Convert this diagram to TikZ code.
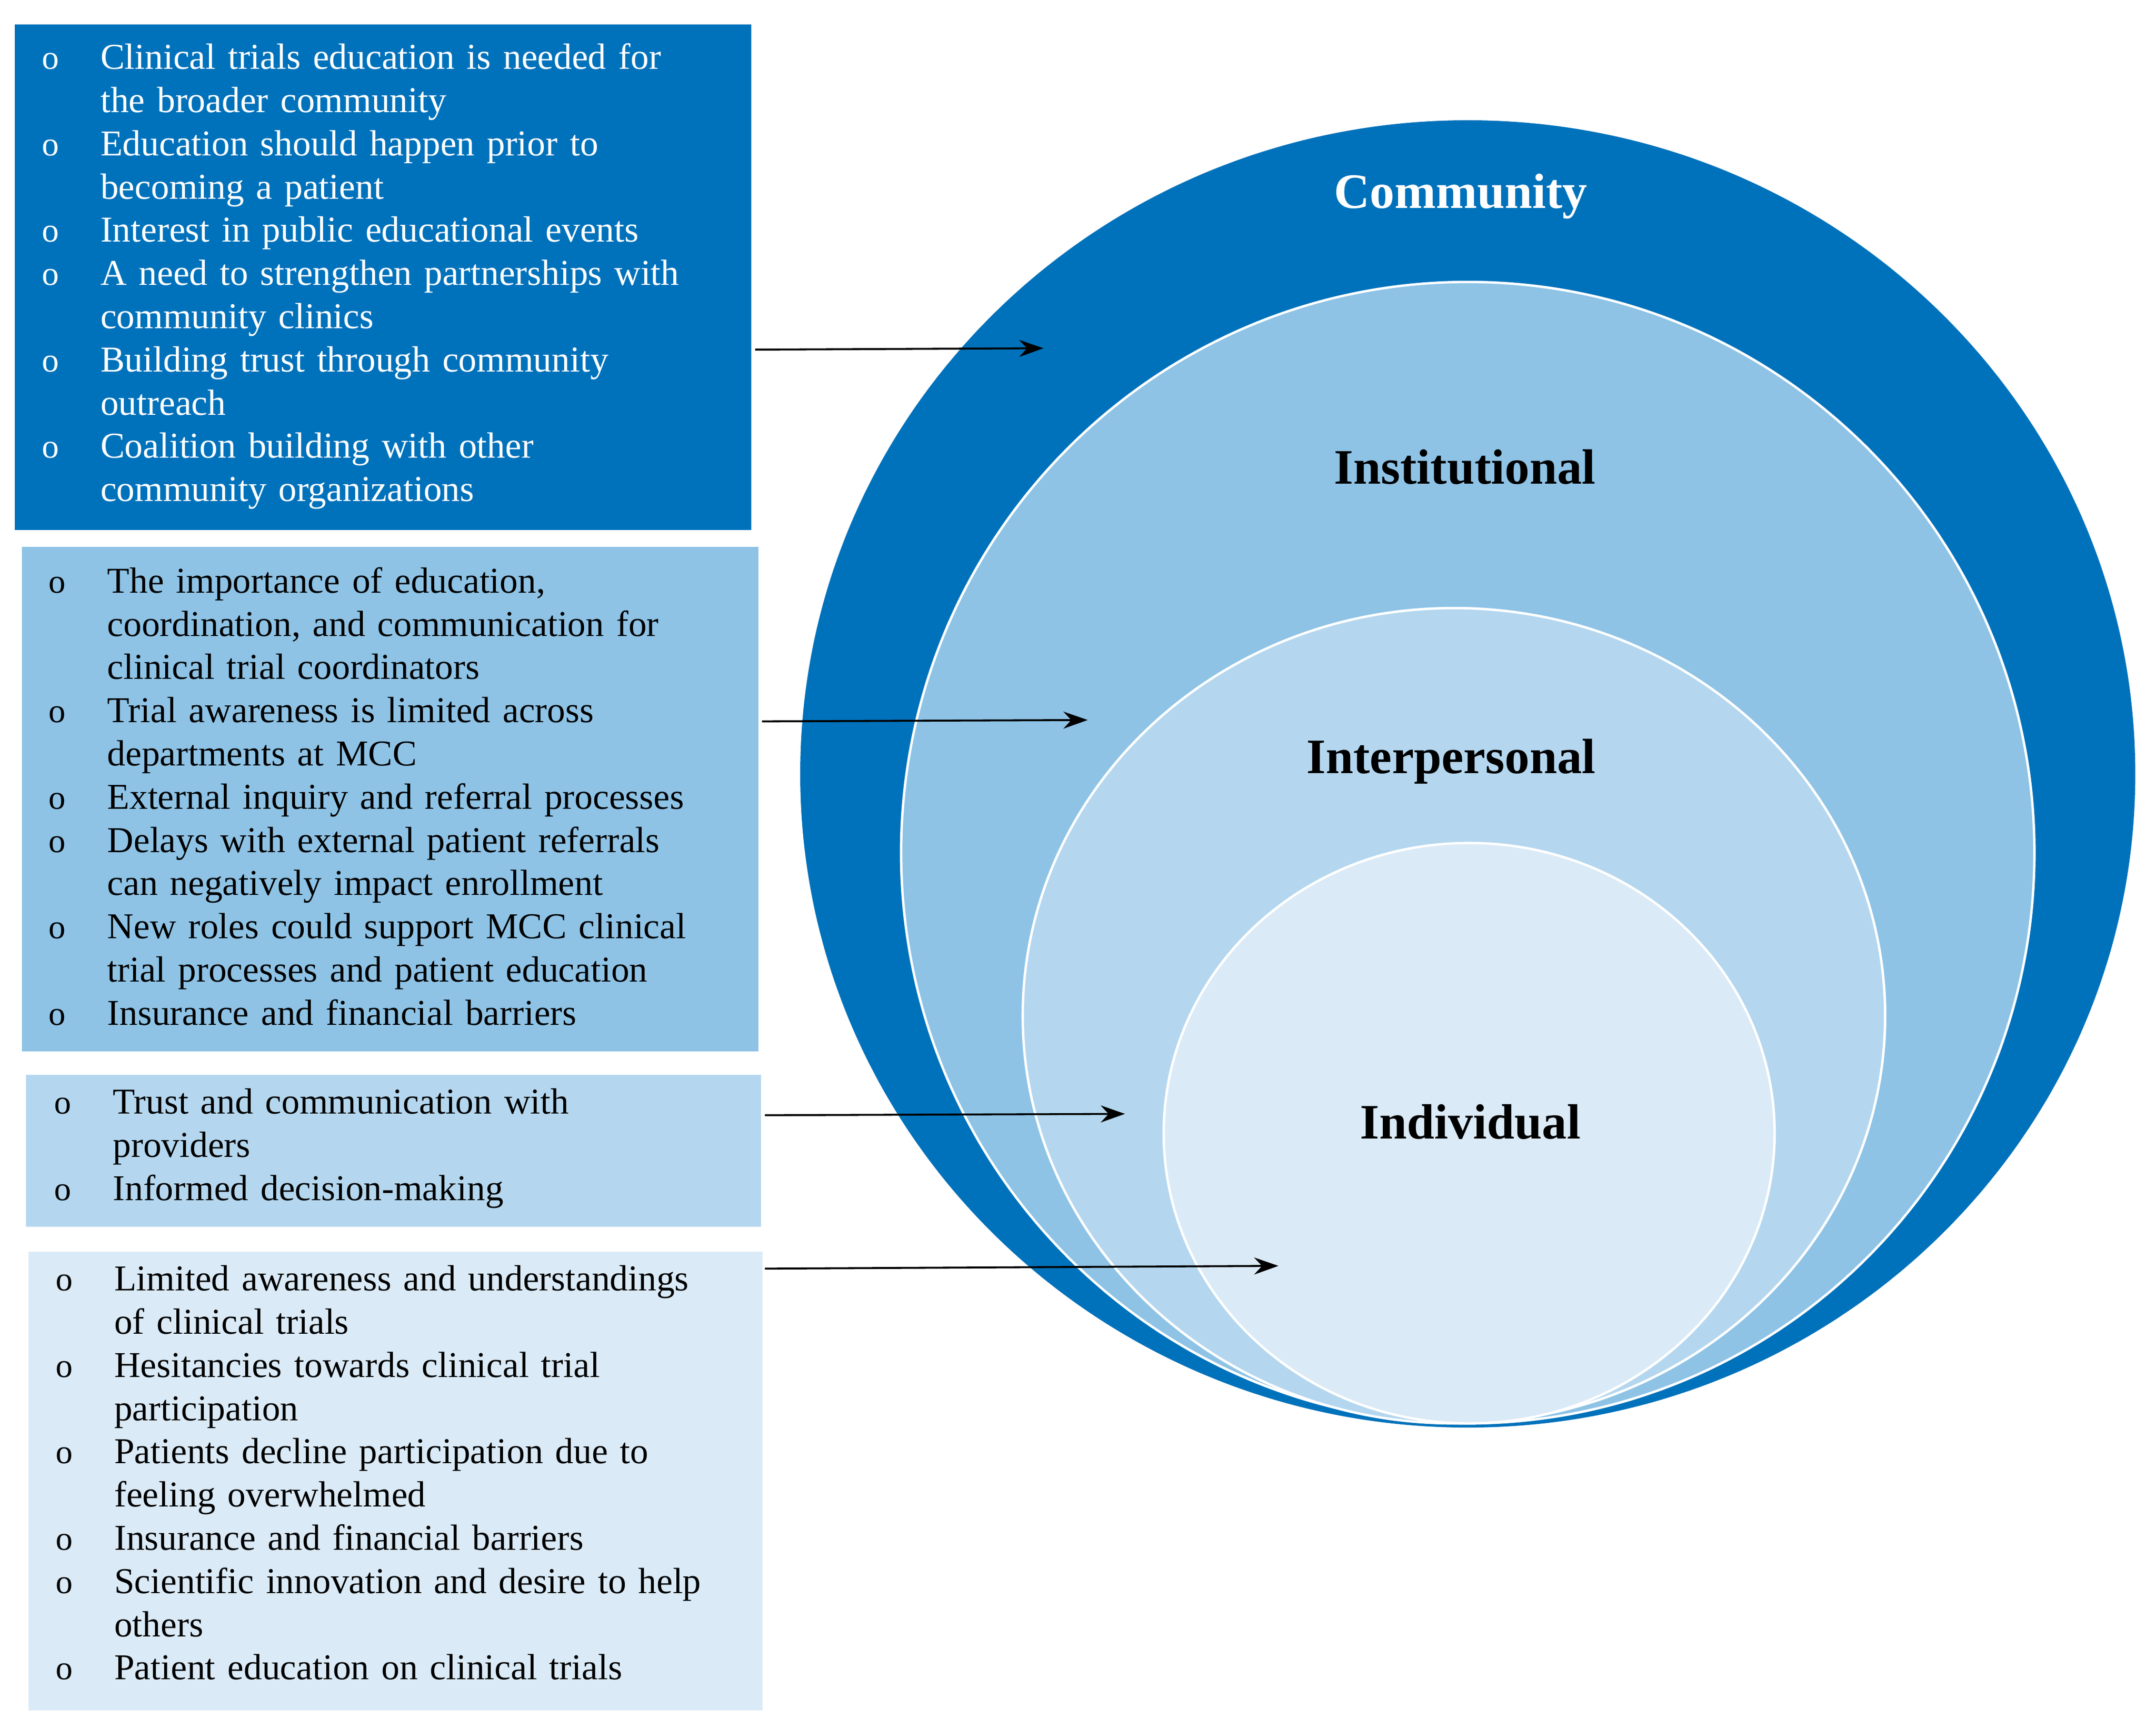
\documentclass[tikz,border=0pt]{standalone}
\usepackage{fontspec}
\setmainfont{Liberation Serif}
\usepackage{enumitem}
\usetikzlibrary{arrows.meta}

\definecolor{commblue}{RGB}{0,114,187}
\definecolor{instblue}{RGB}{142,195,230}
\definecolor{interblue}{RGB}{180,215,239}
\definecolor{indivblue}{RGB}{218,234,247}

\tikzset{
  box/.style = {draw=none, anchor=north west, inner sep=0pt},
  list/.style = {anchor=north west, inner sep=0pt, text width=5.3cm,
    font=\fontsize{7.5}{8.9}\selectfont, align=left},
  ring/.style = {draw=white, line width=0.5pt},
  level/.style = {font=\fontsize{10.2}{12}\selectfont\bfseries},
  arr/.style = {-{Stealth[length=5pt,width=3.5pt]}, thin}
}
\newcommand{\bul}{\begin{itemize}[nosep, leftmargin=0.50cm, labelsep=0.30cm, label={\fontsize{7}{7}\selectfont o}]}

\begin{document}
\begin{tikzpicture}
\useasboundingbox (0,0) rectangle (15.6,-12.43);

% circles
\fill[commblue] (10.62,-5.60) ellipse (4.83 and 4.73);
\draw[ring, fill=instblue] (10.62,-6.17) ellipse (4.10 and 4.13);
\draw[ring, fill=interblue] (10.52,-7.35) ellipse (3.12 and 2.95);
\draw[ring, fill=indivblue] (10.63,-8.20) ellipse (2.21 and 2.10);

\node[level, text=white] (comm) at (10.57,-1.42) {Community};
\node[level] (inst) at (10.60,-3.38) {Institutional};
\node[level] (inter) at (10.50,-5.51) {Interpersonal};
\node[level] (indiv) at (10.64,-8.12) {Individual};

% boxes
\node[box, fill=commblue, minimum width=5.33cm, minimum height=3.66cm] (bcomm) at (0.10,-0.17) {};
\node[box, fill=instblue, minimum width=5.33cm, minimum height=3.65cm] (binst) at (0.15,-3.95) {};
\node[box, fill=interblue, minimum width=5.32cm, minimum height=1.10cm] (binter) at (0.18,-7.77) {};
\node[box, fill=indivblue, minimum width=5.31cm, minimum height=3.32cm] (bindiv) at (0.20,-9.05) {};

\node[list, text=white] (tcomm) at (0.22,-0.18) {\bul
  \item Clinical trials education is needed for\\ the broader community
  \item Education should happen prior to\\ becoming a patient
  \item Interest in public educational events
  \item A need to strengthen partnerships with\\ community clinics
  \item Building trust through community\\ outreach
  \item Coalition building with other\\ community organizations
\end{itemize}};

\node[list] (tinst) at (0.27,-3.97) {\bul
  \item The importance of education,\\ coordination, and communication for\\ clinical trial coordinators
  \item Trial awareness is limited across\\ departments at MCC
  \item External inquiry and referral processes
  \item Delays with external patient referrals\\ can negatively impact enrollment
  \item New roles could support MCC clinical\\ trial processes and patient education
  \item Insurance and financial barriers
\end{itemize}};

\node[list] (tinter) at (0.31,-7.74) {\bul
  \item Trust and communication with\\ providers
  \item Informed decision-making
\end{itemize}};

\node[list] (tindiv) at (0.32,-9.02) {\bul
  \item Limited awareness and understandings\\ of clinical trials
  \item Hesitancies towards clinical trial\\ participation
  \item Patients decline participation due to\\ feeling overwhelmed
  \item Insurance and financial barriers
  \item Scientific innovation and desire to help\\ others
  \item Patient education on clinical trials
\end{itemize}};

% arrows
\coordinate (acomm) at (7.55,-2.52);
\coordinate (ainst) at (7.87,-5.21);
\coordinate (ainter) at (8.14,-8.06);
\coordinate (aindiv) at (9.25,-9.16);
\draw[arr] ([xshift=0.02cm]bcomm.east |- 0,-2.53) -- (acomm);
\draw[arr] ([xshift=0.02cm]binst.east |- 0,-5.22) -- (ainst);
\draw[arr] ([xshift=0.02cm]binter.east |- 0,-8.07) -- (ainter);
\draw[arr] ([xshift=0.01cm]bindiv.east |- 0,-9.18) -- (aindiv);
\end{tikzpicture}
\end{document}
